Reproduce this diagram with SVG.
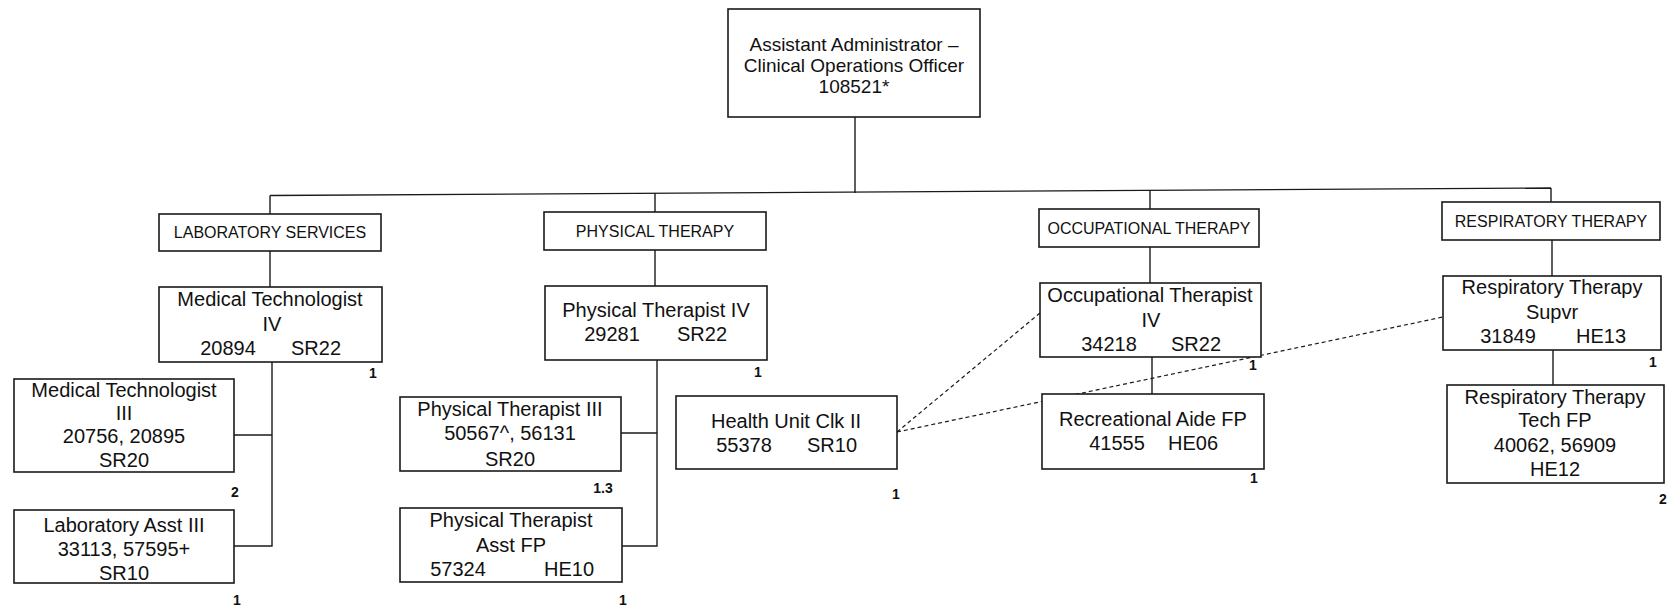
<svg xmlns="http://www.w3.org/2000/svg" width="1672" height="607" viewBox="0 0 1672 607">
<style>
  .box { fill: #ffffff; stroke: #1a1a1a; stroke-width: 1.6; }
  .ln { fill: none; stroke: #1a1a1a; stroke-width: 1.4; }
  .dash { fill: none; stroke: #1a1a1a; stroke-width: 1.2; stroke-dasharray: 4 3; }
  text { font-family: "Liberation Sans", Arial, sans-serif; fill: #111111; text-anchor: middle; }
  .t { font-size: 20px; }
  .top { font-size: 19px; }
  .dept { font-size: 16px; }
  .n { font-size: 14px; font-weight: bold; }
</style>
<rect x="0" y="0" width="1672" height="607" fill="#ffffff"/>

<g id="connectors">
  <line class="ln" x1="855" y1="117" x2="855" y2="193"/>
  <line class="ln" x1="270" y1="195.5" x2="1551" y2="188"/>
  <line class="ln" x1="270" y1="195.5" x2="270" y2="214"/>
  <line class="ln" x1="655" y1="193.2" x2="655" y2="212"/>
  <line class="ln" x1="1150" y1="190.3" x2="1150" y2="209"/>
  <line class="ln" x1="1551" y1="188" x2="1551" y2="202"/>
  <!-- Laboratory -->
  <line class="ln" x1="270" y1="251" x2="270" y2="287"/>
  <polyline class="ln" points="272,362 272,546 234,546"/>
  <line class="ln" x1="234" y1="435" x2="272" y2="435"/>
  <!-- Physical therapy -->
  <line class="ln" x1="655" y1="250" x2="655" y2="286"/>
  <polyline class="ln" points="657,360 657,546 622,546"/>
  <line class="ln" x1="621" y1="433" x2="657" y2="433"/>
  <!-- Occupational therapy -->
  <line class="ln" x1="1150" y1="247" x2="1150" y2="283"/>
  <line class="ln" x1="1152" y1="357" x2="1152" y2="394"/>
  <!-- Respiratory therapy -->
  <line class="ln" x1="1552" y1="240" x2="1552" y2="276"/>
  <line class="ln" x1="1553" y1="350" x2="1553" y2="385"/>
  <!-- dotted links -->
  <line class="dash" x1="897" y1="432" x2="1040" y2="313"/>
  <line class="dash" x1="897" y1="432" x2="1443" y2="317"/>
</g>

<g id="n-top">
  <rect class="box" x="728" y="9" width="252" height="108"/>
  <text class="top" x="854" y="44" dy="0.35em">Assistant Administrator –</text>
  <text class="top" x="854" y="65" dy="0.35em">Clinical Operations Officer</text>
  <text class="top" x="854" y="86" dy="0.35em">108521*</text>
</g>

<g id="n-lab">
  <rect class="box" x="159" y="214" width="222" height="37"/>
  <text class="dept" x="270" y="232" dy="0.35em">LABORATORY SERVICES</text>
</g>
<g id="n-mt4">
  <rect class="box" x="159" y="287" width="223" height="75"/>
  <text class="t" x="270" y="299" dy="0.35em">Medical Technologist</text>
  <text class="t" x="272" y="324" dy="0.35em">IV</text>
  <text class="t" x="228" y="348" dy="0.35em">20894</text>
  <text class="t" x="316" y="348" dy="0.35em">SR22</text>
  <text class="n" x="373" y="373" dy="0.35em">1</text>
</g>
<g id="n-mt3">
  <rect class="box" x="14" y="379" width="220" height="93"/>
  <text class="t" x="124" y="390" dy="0.35em">Medical Technologist</text>
  <text class="t" x="124" y="413" dy="0.35em">III</text>
  <text class="t" x="124" y="436" dy="0.35em">20756, 20895</text>
  <text class="t" x="124" y="460" dy="0.35em">SR20</text>
  <text class="n" x="235" y="492" dy="0.35em">2</text>
</g>
<g id="n-la3">
  <rect class="box" x="14" y="510" width="220" height="73"/>
  <text class="t" x="124" y="525" dy="0.35em">Laboratory Asst III</text>
  <text class="t" x="124" y="549" dy="0.35em">33113, 57595+</text>
  <text class="t" x="124" y="573" dy="0.35em">SR10</text>
  <text class="n" x="237" y="600" dy="0.35em">1</text>
</g>

<g id="n-pt">
  <rect class="box" x="544" y="212" width="222" height="38"/>
  <text class="dept" x="655" y="231" dy="0.35em">PHYSICAL THERAPY</text>
</g>
<g id="n-pt4">
  <rect class="box" x="545" y="286" width="222" height="74"/>
  <text class="t" x="656" y="310" dy="0.35em">Physical Therapist IV</text>
  <text class="t" x="612" y="334" dy="0.35em">29281</text>
  <text class="t" x="702" y="334" dy="0.35em">SR22</text>
  <text class="n" x="758" y="372" dy="0.35em">1</text>
</g>
<g id="n-pt3">
  <rect class="box" x="400" y="397" width="221" height="74"/>
  <text class="t" x="510" y="409" dy="0.35em">Physical Therapist III</text>
  <text class="t" x="510" y="433" dy="0.35em">50567^, 56131</text>
  <text class="t" x="510" y="459" dy="0.35em">SR20</text>
  <text class="n" x="603" y="488" dy="0.35em">1.3</text>
</g>
<g id="n-pta">
  <rect class="box" x="400" y="508" width="222" height="74"/>
  <text class="t" x="511" y="520" dy="0.35em">Physical Therapist</text>
  <text class="t" x="511" y="545" dy="0.35em">Asst FP</text>
  <text class="t" x="458" y="569" dy="0.35em">57324</text>
  <text class="t" x="569" y="569" dy="0.35em">HE10</text>
  <text class="n" x="623" y="600" dy="0.35em">1</text>
</g>
<g id="n-huc">
  <rect class="box" x="676" y="396" width="221" height="73"/>
  <text class="t" x="786" y="421" dy="0.35em">Health Unit Clk II</text>
  <text class="t" x="744" y="445" dy="0.35em">55378</text>
  <text class="t" x="832" y="445" dy="0.35em">SR10</text>
  <text class="n" x="896" y="494" dy="0.35em">1</text>
</g>

<g id="n-ot">
  <rect class="box" x="1039" y="209" width="220" height="38"/>
  <text class="dept" x="1149" y="228" dy="0.35em">OCCUPATIONAL THERAPY</text>
</g>
<g id="n-ot4">
  <rect class="box" x="1040" y="283" width="221" height="74"/>
  <text class="t" x="1150" y="295" dy="0.35em">Occupational Therapist</text>
  <text class="t" x="1151" y="320" dy="0.35em">IV</text>
  <text class="t" x="1109" y="344" dy="0.35em">34218</text>
  <text class="t" x="1196" y="344" dy="0.35em">SR22</text>
  <text class="n" x="1253" y="365" dy="0.35em">1</text>
</g>
<g id="n-ra">
  <rect class="box" x="1042" y="394" width="222" height="75"/>
  <text class="t" x="1153" y="419" dy="0.35em">Recreational Aide FP</text>
  <text class="t" x="1117" y="443" dy="0.35em">41555</text>
  <text class="t" x="1193" y="443" dy="0.35em">HE06</text>
  <text class="n" x="1254" y="478" dy="0.35em">1</text>
</g>

<g id="n-rt">
  <rect class="box" x="1442" y="202" width="218" height="38"/>
  <text class="dept" x="1551" y="221" dy="0.35em">RESPIRATORY THERAPY</text>
</g>
<g id="n-rts">
  <rect class="box" x="1443" y="276" width="218" height="74"/>
  <text class="t" x="1552" y="287" dy="0.35em">Respiratory Therapy</text>
  <text class="t" x="1552" y="312" dy="0.35em">Supvr</text>
  <text class="t" x="1508" y="336" dy="0.35em">31849</text>
  <text class="t" x="1601" y="336" dy="0.35em">HE13</text>
  <text class="n" x="1653" y="362" dy="0.35em">1</text>
</g>
<g id="n-rtt">
  <rect class="box" x="1447" y="385" width="217" height="98"/>
  <text class="t" x="1555" y="397" dy="0.35em">Respiratory Therapy</text>
  <text class="t" x="1555" y="420" dy="0.35em">Tech FP</text>
  <text class="t" x="1555" y="445" dy="0.35em">40062, 56909</text>
  <text class="t" x="1555" y="469" dy="0.35em">HE12</text>
  <text class="n" x="1663" y="499" dy="0.35em">2</text>
</g>
</svg>
